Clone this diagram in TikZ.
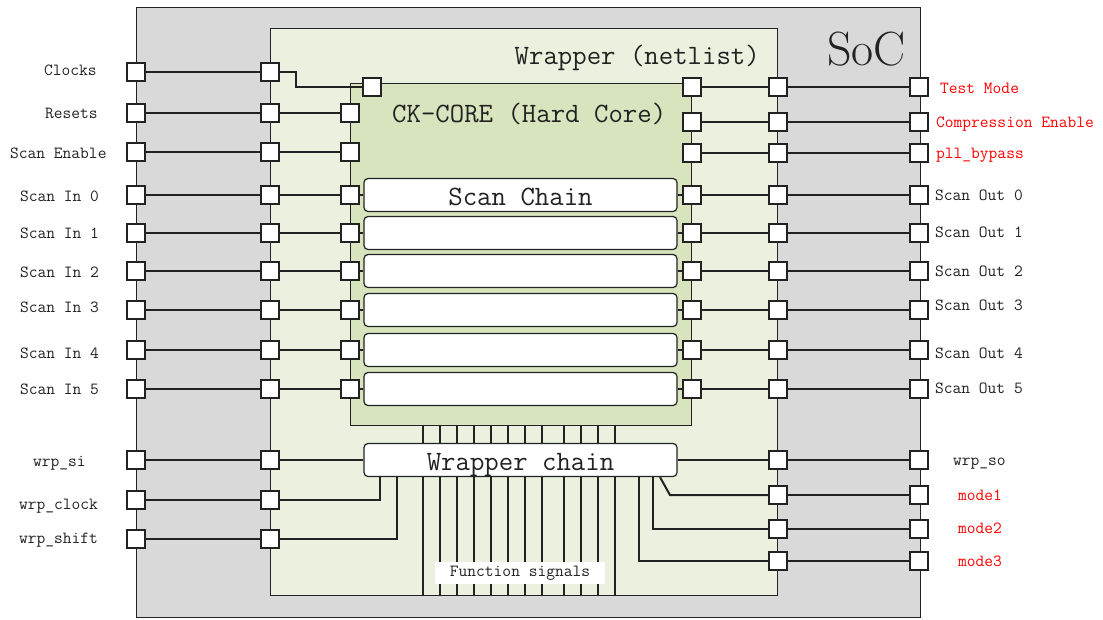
\documentclass[tikz,border=0pt]{standalone}
\usetikzlibrary{calc}
\definecolor{socgray}{HTML}{D9D9D9}
\definecolor{wrapgreen}{HTML}{EBF1DE}
\definecolor{coregreen}{HTML}{D7E4BD}
\definecolor{ink}{HTML}{222222}
\definecolor{sigred}{HTML}{FF0000}
\begin{document}
\begin{tikzpicture}[x=1pt,y=-1pt,
    box/.style={draw=ink,line width=1.2pt,anchor=north west,inner sep=0pt},
    port/.style={draw=ink,fill=white,line width=1.3pt,minimum size=18pt,inner sep=0pt},
    chainbox/.style={draw=ink,fill=white,line width=1.2pt,rounded corners=4pt,minimum width=313pt,minimum height=33pt,inner sep=0pt,font=\fontsize{28}{30}\ttfamily,text=ink,text height=20pt,text depth=0pt},
    wire/.style={draw=ink,line width=2pt},
    lbl/.style={anchor=base west,inner sep=0pt,font=\fontsize{17}{19}\ttfamily,text=ink},
    redlbl/.style={lbl,text=sigred}]
    \useasboundingbox (0,0) rectangle (1103,619);
    % nested blocks
    \node (soc) [box,fill=socgray,minimum width=784pt,minimum height=610pt] at (136,7) {};
    \node (wrap) [box,fill=wrapgreen,minimum width=507pt,minimum height=567pt] at (270,28) {};
    \node (core) [box,fill=coregreen,minimum width=341pt,minimum height=342pt] at (350,83) {};
    \node (soctext) [anchor=base east,inner sep=0pt,font=\fontsize{48}{50}\selectfont,text=ink] at (906,65) {SoC};
    \node (wraptext) [anchor=base east,inner sep=0pt,font=\fontsize{28}{30}\ttfamily,text=ink] at (760,64) {Wrapper (netlist)};
    \node (coretext) [anchor=base west,inner sep=0pt,font=\fontsize{28}{30}\ttfamily,text=ink] at (392,122) {CK-CORE (Hard Core)};
    % scan chains and wrapper chain
    \node (chain0) [chainbox] at (520.5,195) {Scan Chain};
    \foreach \i/\y in {1/233,2/271,3/310,4/350,5/389}
        \node (chain\i) [chainbox] at (520.5,\y) {};
    \node (wchain) [chainbox] at (520.5,460) {Wrapper chain};
    % function signals
    \foreach \x in {423,440,457,474,491,508,525,542,564,581,598,615} {
        \coordinate (fs) at (\x,0);
        \draw [wire] (fs |- core.south) -- (fs |- wchain.north);
        \draw [wire] (fs |- wchain.south) -- (fs |- wrap.south);
    }
    \node (fslabel) [fill=white,minimum width=170pt,minimum height=22pt,inner sep=0pt,font=\fontsize{17}{19}\ttfamily,text=ink] at (520,573) {Function signals};
    % ports, left side
    \foreach \n/\y in {clk/72,rst/113,se/152,si0/195,si1/233,si2/271,si3/310,si4/350,si5/389,wsi/460,wck/500,wsh/539} {
        \node (sl-\n) [port] at (136,\y) {};
        \node (wl-\n) [port] at (270,\y) {};
    }
    \foreach \n/\y in {rst/113,se/152,si0/195,si1/233,si2/271,si3/310,si4/350,si5/389}
        \node (cl-\n) [port] at (350,\y) {};
    \node (cl-clk) [port] at (372,87) {};
    % ports, right side
    \foreach \n/\y in {tm/87,ce/122,pll/153,so0/195,so1/233,so2/271,so3/310,so4/350,so5/389,wso/460,m1/495,m2/529,m3/561} {
        \node (sr-\n) [port] at (919,\y) {};
        \node (wr-\n) [port] at (778,\y) {};
    }
    \foreach \n/\y in {tm/87,ce/122,pll/153,so0/195,so1/233,so2/271,so3/310,so4/350,so5/389}
        \node (cr-\n) [port] at (692,\y) {};
    % wires
    \foreach \n in {clk,rst,se,si0,si1,si2,si3,si4,si5,wsi,wck,wsh}
        \draw [wire] (sl-\n) -- (wl-\n);
    \foreach \n in {rst,se,si0,si1,si2,si3,si4,si5}
        \draw [wire] (wl-\n) -- (cl-\n);
    \foreach \n in {tm,ce,pll,so0,so1,so2,so3,so4,so5,wso,m1,m2,m3}
        \draw [wire] (wr-\n) -- (sr-\n);
    \foreach \n in {tm,ce,pll,so0,so1,so2,so3,so4,so5}
        \draw [wire] (cr-\n) -- (wr-\n);
    \foreach \i in {0,...,5} {
        \draw [wire] (cl-si\i) -- (chain\i);
        \draw [wire] (chain\i) -- (cr-so\i);
    }
    \draw [wire] (wl-clk.east) -- ++(16,0) |- (cl-clk);
    \draw [wire] (wl-wsi) -- (wchain);
    \draw [wire] (wl-wck) -| ([xshift=-140.5pt]wchain.south);
    \draw [wire] (wl-wsh) -| ([xshift=-123.5pt]wchain.south);
    \draw [wire] (wchain) -- (wr-wso);
    \draw [wire] ([xshift=139.5pt]wchain.south) -- ++(10,18) -- (wr-m1);
    \draw [wire] ([xshift=132.5pt]wchain.south) |- (wr-m2);
    \draw [wire] ([xshift=118.5pt]wchain.south) |- (wr-m3);
    % labels, left
    \node (t-clk) [lbl] at (44,75) {Clocks};
    \node (t-rst) [lbl] at (45,118) {Resets};
    \node (t-se) [lbl] at (10,158) {Scan Enable};
    \node (t-si0) [lbl] at (20,201) {Scan In 0};
    \node (t-si1) [lbl] at (20,238) {Scan In 1};
    \node (t-si2) [lbl] at (20,277) {Scan In 2};
    \node (t-si3) [lbl] at (20,312) {Scan In 3};
    \node (t-si4) [lbl] at (20,358) {Scan In 4};
    \node (t-si5) [lbl] at (20,394) {Scan In 5};
    \node (t-wsi) [lbl] at (33,466) {wrp\_si};
    \node (t-wck) [lbl] at (19,509) {wrp\_clock};
    \node (t-wsh) [lbl] at (19,543) {wrp\_shift};
    % labels, right
    \node (t-tm) [redlbl] at (940,93) {Test Mode};
    \node (t-ce) [redlbl] at (936,127) {Compression Enable};
    \node (t-pll) [redlbl] at (936,158) {pll\_bypass};
    \node (t-so0) [lbl] at (935,200) {Scan Out 0};
    \node (t-so1) [lbl] at (935,237) {Scan Out 1};
    \node (t-so2) [lbl] at (935,276) {Scan Out 2};
    \node (t-so3) [lbl] at (935,310) {Scan Out 3};
    \node (t-so4) [lbl] at (935,358) {Scan Out 4};
    \node (t-so5) [lbl] at (935,393) {Scan Out 5};
    \node (t-wso) [lbl] at (953,465) {wrp\_so};
    \node (t-m1) [redlbl] at (958,500) {mode1};
    \node (t-m2) [redlbl] at (958,533) {mode2};
    \node (t-m3) [redlbl] at (958,566) {mode3};
\end{tikzpicture}
\end{document}
